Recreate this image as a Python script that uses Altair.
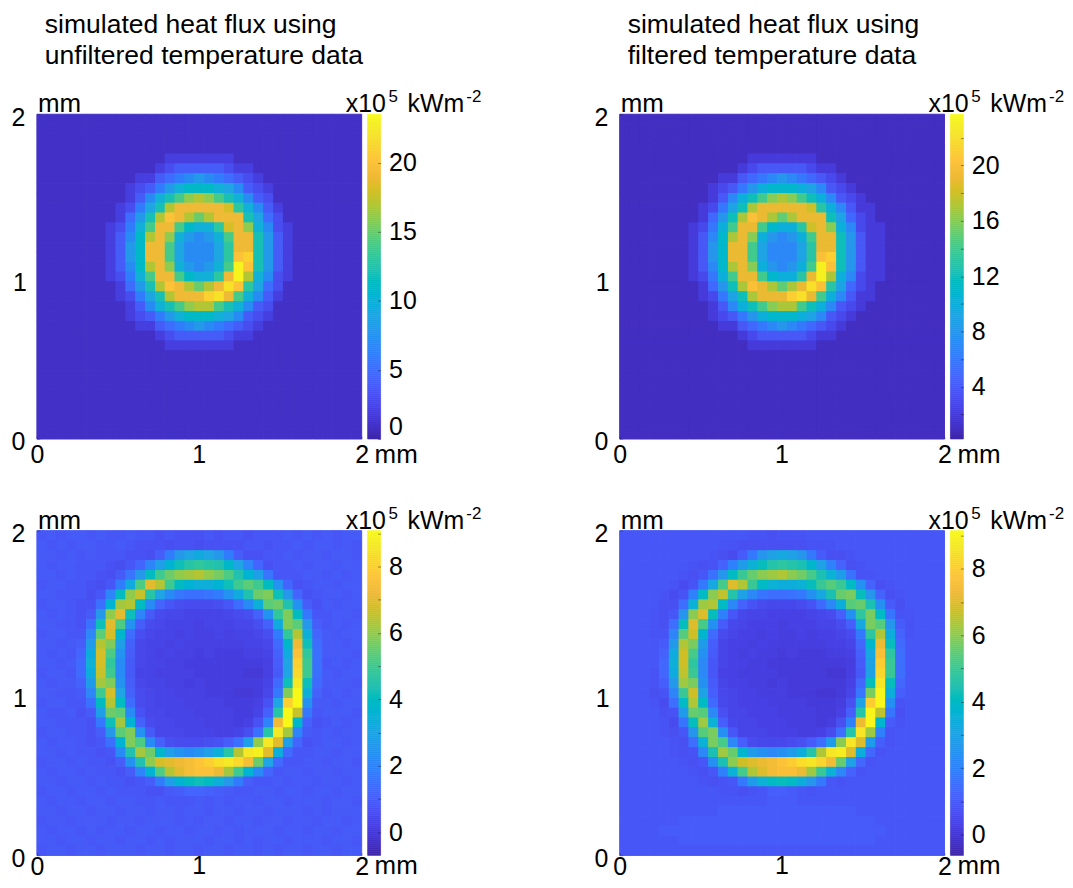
import altair as alt
import numpy as np
import pandas as pd

FONT = "Liberation Sans"
N = 33

# parula colour map samples
PARULA = [
    (0.2422, 0.1504, 0.6603), (0.2647, 0.1978, 0.7952), (0.2783, 0.2559, 0.8991),
    (0.2810, 0.3228, 0.9579), (0.2699, 0.3892, 0.9906), (0.2206, 0.4603, 0.9973),
    (0.1786, 0.5289, 0.9682), (0.1540, 0.5902, 0.9218), (0.1248, 0.6459, 0.8883),
    (0.0689, 0.6948, 0.8394), (0.0067, 0.7312, 0.7660), (0.1408, 0.7584, 0.6842),
    (0.2161, 0.7843, 0.5923), (0.3406, 0.8008, 0.4789), (0.5044, 0.7993, 0.3480),
    (0.6720, 0.7793, 0.2227), (0.8203, 0.7498, 0.1535), (0.9393, 0.7288, 0.2100),
    (0.9970, 0.7659, 0.2199), (0.9786, 0.8386, 0.1766), (0.9597, 0.9135, 0.1423),
    (0.9769, 0.9839, 0.0805),
]
PARULA_HEX = ["#%02x%02x%02x" % tuple(int(round(c * 255)) for c in rgb) for rgb in PARULA]

# heat flux, x10^5 kWm^-2, top row of the picture first
top_unfiltered = [
    [1,1,1,1,1,1,1,1,1,1,1,1,1,1,1,1,1,1,1,1,1,1,1,1,1,1,1,1,1,1,1,1,1],
    [1,1,1,1,1,1,1,1,1,1,1,1,1,1,1,1,1,1,1,1,1,1,1,1,1,1,1,1,1,1,1,1,1],
    [1,1,1,1,1,1,1,1,1,1,1,1,1,1,1,1,1,1,1,1,1,1,1,1,1,1,1,1,1,1,1,1,1],
    [1,1,1,1,1,1,1,1,1,1,1,1,1,1,1,1,1,1,1,1,1,1,1,1,1,1,1,1,1,1,1,1,1],
    [1,1,1,1,1,1,1,1,1,1,1,1,1,2,2,2,2,2,2,2,1,1,1,1,1,1,1,1,1,1,1,1,1],
    [1,1,1,1,1,1,1,1,1,1,1,1,2,3,4,4,4,4,4,3,2,2,1,1,1,1,1,1,1,1,1,1,1],
    [1,1,1,1,1,1,1,1,1,1,2,2,4,5,6,7,8,7,6,5,4,3,2,1,1,1,1,1,1,1,1,1,1],
    [1,1,1,1,1,1,1,1,1,2,3,4,6,8,10,11,11,11,10,9,7,4,3,2,1,1,1,1,1,1,1,1,1],
    [1,1,1,1,1,1,1,1,1,2,4,7,10,12,14,16,17,16,14,12,10,7,4,3,1,1,1,1,1,1,1,1,1],
    [1,1,1,1,1,1,1,1,2,3,6,9,12,17,19,19,19,19,19,18,13,10,7,4,2,1,1,1,1,1,1,1,1],
    [1,1,1,1,1,1,1,1,2,5,8,12,17,20,19,17,15,17,19,19,19,12,9,5,3,1,1,1,1,1,1,1,1],
    [1,1,1,1,1,1,1,2,3,6,10,14,19,19,14,11,10,10,13,18,19,16,10,7,3,2,1,1,1,1,1,1,1],
    [1,1,1,1,1,1,1,2,4,7,11,17,19,16,10,8,7,8,10,14,19,19,12,8,4,2,1,1,1,1,1,1,1],
    [1,1,1,1,1,1,1,2,4,8,11,19,19,14,9,7,7,7,9,13,19,19,12,8,4,2,1,1,1,1,1,1,1],
    [1,1,1,1,1,1,1,2,4,8,11,19,19,14,9,7,7,7,9,13,20,21,12,8,4,2,1,1,1,1,1,1,1],
    [1,1,1,1,1,1,1,2,4,7,11,17,19,16,10,8,7,8,10,14,23,20,12,8,4,2,1,1,1,1,1,1,1],
    [1,1,1,1,1,1,1,2,3,6,10,14,19,19,14,11,10,10,13,19,23,17,10,7,3,2,1,1,1,1,1,1,1],
    [1,1,1,1,1,1,1,1,2,5,8,12,17,20,19,17,15,17,19,22,20,13,9,5,3,1,1,1,1,1,1,1,1],
    [1,1,1,1,1,1,1,1,2,3,6,9,12,17,19,19,19,21,22,19,14,10,7,4,2,1,1,1,1,1,1,1,1],
    [1,1,1,1,1,1,1,1,1,2,4,7,10,12,14,16,17,17,14,12,10,7,4,3,1,1,1,1,1,1,1,1,1],
    [1,1,1,1,1,1,1,1,1,2,3,4,6,8,10,11,11,11,10,9,7,4,3,2,1,1,1,1,1,1,1,1,1],
    [1,1,1,1,1,1,1,1,1,1,2,2,4,5,6,7,8,7,6,5,4,3,2,1,1,1,1,1,1,1,1,1,1],
    [1,1,1,1,1,1,1,1,1,1,1,1,2,3,4,4,4,4,4,3,2,2,1,1,1,1,1,1,1,1,1,1,1],
    [1,1,1,1,1,1,1,1,1,1,1,1,1,2,2,2,2,2,2,2,1,1,1,1,1,1,1,1,1,1,1,1,1],
    [1,1,1,1,1,1,1,1,1,1,1,1,1,1,1,1,1,1,1,1,1,1,1,1,1,1,1,1,1,1,1,1,1],
    [1,1,1,1,1,1,1,1,1,1,1,1,1,1,1,1,1,1,1,1,1,1,1,1,1,1,1,1,1,1,1,1,1],
    [1,1,1,1,1,1,1,1,1,1,1,1,1,1,1,1,1,1,1,1,1,1,1,1,1,1,1,1,1,1,1,1,1],
    [1,1,1,1,1,1,1,1,1,1,1,1,1,1,1,1,1,1,1,1,1,1,1,1,1,1,1,1,1,1,1,1,1],
    [1,1,1,1,1,1,1,1,1,1,1,1,1,1,1,1,1,1,1,1,1,1,1,1,1,1,1,1,1,1,1,1,1],
    [1,1,1,1,1,1,1,1,1,1,1,1,1,1,1,1,1,1,1,1,1,1,1,1,1,1,1,1,1,1,1,1,1],
    [1,1,1,1,1,1,1,1,1,1,1,1,1,1,1,1,1,1,1,1,1,1,1,1,1,1,1,1,1,1,1,1,1],
    [1,1,1,1,1,1,1,1,1,1,1,1,1,1,1,1,1,1,1,1,1,1,1,1,1,1,1,1,1,1,1,1,1],
    [1,1,1,1,1,1,1,1,1,1,1,1,1,1,1,1,1,1,1,1,1,1,1,1,1,1,1,1,1,1,1,1,1],
]

top_filtered = [
    [1,1,1,1,1,1,1,1,1,1,1,1,1,1,1,1,1,1,1,1,1,1,1,1,1,1,1,1,1,1,1,1,1],
    [1,1,1,1,1,1,1,1,1,1,1,1,1,1,1,1,1,1,1,1,1,1,1,1,1,1,1,1,1,1,1,1,1],
    [1,1,1,1,1,1,1,1,1,1,1,1,1,1,1,1,1,1,1,1,1,1,1,1,1,1,1,1,1,1,1,1,1],
    [1,1,1,1,1,1,1,1,1,1,1,1,1,1,1,1,1,1,1,1,1,1,1,1,1,1,1,1,1,1,1,1,1],
    [1,1,1,1,1,1,1,1,1,1,1,1,1,2,2,2,2,2,2,2,1,1,1,1,1,1,1,1,1,1,1,1,1],
    [1,1,1,1,1,1,1,1,1,1,1,1,2,3,4,4,4,4,4,3,2,2,1,1,1,1,1,1,1,1,1,1,1],
    [1,1,1,1,1,1,1,1,1,1,2,2,4,5,6,7,8,7,6,5,4,3,2,1,1,1,1,1,1,1,1,1,1],
    [1,1,1,1,1,1,1,1,1,2,3,4,6,8,10,11,11,11,10,9,7,4,3,2,1,1,1,1,1,1,1,1,1],
    [1,1,1,1,1,1,1,1,1,2,4,7,10,12,14,16,17,16,14,12,10,7,4,3,2,1,1,1,1,1,1,1,1],
    [1,1,1,1,1,1,1,1,2,3,6,9,12,17,19,19,19,19,19,18,13,10,7,4,2,2,1,1,1,1,1,1,1],
    [1,1,1,1,1,1,1,1,2,5,8,12,17,20,19,17,15,17,19,19,19,12,9,5,3,2,1,1,1,1,1,1,1],
    [1,1,1,1,1,1,1,2,3,6,10,14,19,19,14,11,10,10,13,18,19,16,10,7,3,2,2,1,1,1,1,1,1],
    [1,1,1,1,1,1,1,2,4,7,11,17,19,16,10,8,7,8,10,14,19,19,12,8,4,2,2,1,1,1,1,1,1],
    [1,1,1,1,1,1,1,2,4,8,11,19,19,14,9,7,7,7,9,13,19,19,12,8,4,2,2,1,1,1,1,1,1],
    [1,1,1,1,1,1,1,2,4,8,11,19,19,14,9,7,7,7,9,13,20,21,12,8,4,2,2,1,1,1,1,1,1],
    [1,1,1,1,1,1,1,2,4,7,11,17,19,16,10,8,7,8,10,14,23,20,12,8,4,2,2,1,1,1,1,1,1],
    [1,1,1,1,1,1,1,2,3,6,10,14,19,19,14,11,10,10,13,19,23,17,10,7,3,2,2,1,1,1,1,1,1],
    [1,1,1,1,1,1,1,1,2,5,8,12,17,20,19,17,15,17,19,22,20,13,9,5,3,2,1,1,1,1,1,1,1],
    [1,1,1,1,1,1,1,1,2,3,6,9,12,17,19,19,19,21,22,19,14,10,7,4,2,2,1,1,1,1,1,1,1],
    [1,1,1,1,1,1,1,1,1,2,4,7,10,12,14,16,17,17,14,12,10,7,4,3,2,1,1,1,1,1,1,1,1],
    [1,1,1,1,1,1,1,1,1,2,3,4,6,8,10,11,11,11,10,9,7,4,3,2,1,1,1,1,1,1,1,1,1],
    [1,1,1,1,1,1,1,1,1,1,2,2,4,5,6,7,8,7,6,5,4,3,2,1,1,1,1,1,1,1,1,1,1],
    [1,1,1,1,1,1,1,1,1,1,1,1,2,3,4,4,4,4,4,3,2,2,1,1,1,1,1,1,1,1,1,1,1],
    [1,1,1,1,1,1,1,1,1,1,1,1,1,2,2,2,2,2,2,2,1,1,1,1,1,1,1,1,1,1,1,1,1],
    [1,1,1,1,1,1,1,1,1,1,1,1,1,1,1,1,1,1,1,1,1,1,1,1,1,1,1,1,1,1,1,1,1],
    [1,1,1,1,1,1,1,1,1,1,1,1,1,1,1,1,1,1,1,1,1,1,1,1,1,1,1,1,1,1,1,1,1],
    [1,1,1,1,1,1,1,1,1,1,1,1,1,1,1,1,1,1,1,1,1,1,1,1,1,1,1,1,1,1,1,1,1],
    [1,1,1,1,1,1,1,1,1,1,1,1,1,1,1,1,1,1,1,1,1,1,1,1,1,1,1,1,1,1,1,1,1],
    [1,1,1,1,1,1,1,1,1,1,1,1,1,1,1,1,1,1,1,1,1,1,1,1,1,1,1,1,1,1,1,1,1],
    [1,1,1,1,1,1,1,1,1,1,1,1,1,1,1,1,1,1,1,1,1,1,1,1,1,1,1,1,1,1,1,1,1],
    [1,1,1,1,1,1,1,1,1,1,1,1,1,1,1,1,1,1,1,1,1,1,1,1,1,1,1,1,1,1,1,1,1],
    [1,1,1,1,1,1,1,1,1,1,1,1,1,1,1,1,1,1,1,1,1,1,1,1,1,1,1,1,1,1,1,1,1],
    [1,1,1,1,1,1,1,1,1,1,1,1,1,1,1,1,1,1,1,1,1,1,1,1,1,1,1,1,1,1,1,1,1],
]

# bottom panels, in tenths of x10^5 kWm^-2
bottom_unfiltered = [
    [8,9,8,9,9,8,9,8,8,9,8,8,7,8,7,7,7,8,7,8,8,7,8,8,8,9,8,9,8,9,8,9,9],
    [9,8,9,8,9,9,8,8,9,8,7,7,7,6,7,7,6,7,7,7,7,8,8,7,8,8,9,8,9,9,8,9,8],
    [9,9,8,9,8,9,8,8,8,7,7,6,10,18,26,30,32,30,26,18,10,7,7,8,8,9,8,9,9,8,9,9,8],
    [9,8,9,9,8,8,8,7,6,8,12,20,28,36,42,46,48,46,44,38,30,20,12,7,8,8,9,8,9,9,8,9,9],
    [9,9,8,9,8,8,7,6,9,16,26,40,50,56,60,62,64,60,57,52,44,36,28,16,8,8,8,9,9,8,9,8,9],
    [8,9,9,8,8,7,6,8,18,32,52,70,64,50,40,36,34,34,36,42,50,54,50,40,24,12,7,8,9,9,8,9,9],
    [9,9,8,8,8,6,8,20,40,60,66,46,30,22,17,15,15,16,18,24,32,44,56,58,42,26,12,7,8,9,9,8,9],
    [8,9,9,8,7,7,15,36,62,64,40,22,12,8,6,5,5,5,6,8,14,22,34,54,56,44,24,10,7,9,8,9,9],
    [9,8,9,8,7,9,26,60,70,42,20,9,5,4,4,3,3,3,3,4,5,6,11,24,48,58,40,17,8,8,9,9,8],
    [9,9,8,8,7,15,42,70,52,24,10,5,4,3,3,3,2,3,3,3,4,4,6,11,32,58,54,26,10,8,9,8,9],
    [8,9,9,8,8,21,54,68,38,14,6,4,3,3,2,3,2,2,3,2,3,3,4,6,18,48,64,34,12,9,8,9,9],
    [9,9,8,9,10,27,64,58,28,11,4,3,3,2,3,2,2,2,2,2,2,3,3,4,13,38,72,42,14,9,9,8,9],
    [9,8,9,8,12,33,68,52,24,10,4,3,2,3,2,2,1,2,1,1,1,2,2,3,11,32,76,48,15,9,9,9,8],
    [9,9,8,9,13,35,68,48,22,9,4,3,3,2,2,1,1,1,1,1,1,1,1,2,10,30,80,50,15,8,9,8,9],
    [8,9,9,8,13,33,66,50,22,9,3,3,2,2,2,2,1,1,1,1,1,0,0,2,9,30,82,50,15,9,8,9,9],
    [9,8,9,9,11,27,62,58,24,10,4,3,3,2,2,1,2,1,1,1,1,1,1,3,13,42,86,42,13,9,9,9,8],
    [9,9,8,8,9,21,50,68,30,11,5,4,3,3,2,2,2,1,1,1,0,0,1,4,17,58,90,34,11,8,9,8,9],
    [8,9,9,8,8,15,40,64,40,14,5,4,3,3,3,2,2,2,2,1,1,1,2,7,30,80,90,24,9,9,8,9,9],
    [9,8,8,9,7,9,28,56,54,22,7,4,4,3,3,3,2,2,2,2,1,1,3,11,46,90,66,17,8,9,9,9,8],
    [9,9,8,8,8,7,17,42,62,36,11,5,4,4,3,3,3,2,2,2,1,2,7,20,72,90,38,11,7,8,9,8,9],
    [8,9,9,8,8,7,10,26,54,58,24,9,4,4,4,3,3,3,2,2,3,6,15,46,86,62,20,9,8,9,8,9,9],
    [9,8,9,9,8,7,8,15,36,58,52,22,11,6,5,5,5,6,7,10,15,28,60,86,70,28,12,7,8,9,9,8,9],
    [9,9,8,9,8,8,7,8,22,44,62,56,38,28,24,22,24,28,34,46,64,86,88,70,34,13,8,8,9,9,8,9,9],
    [8,9,9,8,9,8,8,7,10,24,44,60,68,70,72,74,77,80,84,86,82,74,56,30,13,8,8,9,9,8,9,9,8],
    [9,8,9,9,8,9,8,8,7,10,20,36,52,64,70,74,76,76,72,62,50,36,22,12,8,9,9,8,9,9,8,9,9],
    [9,9,8,9,9,8,9,8,8,7,8,10,18,28,36,40,42,40,34,26,18,10,8,8,9,8,9,9,8,9,9,8,9],
    [8,9,9,8,9,9,8,9,8,8,8,7,7,9,10,12,12,11,10,9,8,8,9,9,8,9,9,8,9,9,8,9,9],
    [9,8,9,9,8,9,9,8,9,9,8,8,9,8,8,8,9,8,9,8,9,9,8,9,9,8,9,9,9,8,9,9,8],
    [9,9,8,9,9,8,9,9,8,9,9,8,9,9,8,9,9,8,9,9,8,9,9,8,9,9,9,8,9,8,9,9,9],
    [8,9,9,8,9,9,9,8,9,9,8,9,9,9,8,9,8,9,9,8,9,9,8,9,9,8,9,9,8,9,9,8,9],
    [9,8,9,9,8,9,8,9,9,8,9,9,8,9,9,8,9,9,8,9,8,9,9,9,8,9,9,8,9,9,8,9,9],
    [9,9,8,9,9,8,9,9,8,9,9,8,9,8,9,9,9,8,9,9,8,9,8,9,9,8,9,9,9,8,9,9,8],
    [8,9,9,8,9,9,8,9,9,9,8,9,9,8,9,9,8,9,9,8,9,9,8,9,8,9,9,8,9,9,8,9,9],
]

bottom_filtered = [
    [9,9,9,9,9,9,9,9,9,9,9,9,9,8,8,7,8,8,8,9,9,9,9,9,9,9,9,9,9,9,9,9,9],
    [9,9,9,9,9,9,9,9,9,9,8,8,7,7,7,7,7,7,7,8,8,8,9,9,9,9,9,9,9,9,9,9,9],
    [9,9,9,9,9,9,9,9,9,8,7,6,10,18,26,30,32,30,26,18,10,7,7,8,9,9,9,9,9,9,9,9,9],
    [9,9,9,9,9,9,9,8,7,8,12,20,28,36,42,46,48,46,44,38,30,20,12,7,8,9,9,9,9,9,9,9,9],
    [9,9,9,9,9,9,8,7,9,16,26,40,50,56,60,62,64,60,57,52,44,36,28,16,8,8,9,9,9,9,9,9,9],
    [9,9,9,9,9,8,6,8,18,32,52,70,64,50,40,36,34,34,36,42,50,54,50,40,24,12,7,8,9,9,9,9,9],
    [9,9,9,9,8,6,8,20,40,60,66,46,30,22,17,15,15,16,18,24,32,44,56,58,42,26,12,7,8,9,9,9,9],
    [9,9,9,9,7,7,15,36,62,64,40,22,12,8,6,5,5,5,6,8,14,22,34,54,56,44,24,10,7,9,9,9,9],
    [9,9,9,8,7,9,26,60,70,42,20,9,5,4,4,3,3,3,3,4,5,6,11,24,48,58,40,17,8,8,9,9,9],
    [9,9,9,8,7,15,42,70,52,24,10,5,4,3,3,3,2,3,3,3,4,4,6,11,32,58,54,26,10,8,9,9,9],
    [9,9,9,8,8,21,54,68,38,14,6,4,3,3,2,3,2,2,3,2,3,3,4,6,18,48,64,34,12,8,9,9,9],
    [9,9,9,9,10,27,64,58,28,11,4,3,3,2,3,2,2,2,2,2,2,3,3,4,13,38,72,42,14,9,9,9,9],
    [9,9,9,9,12,33,68,52,24,10,4,3,2,3,2,2,1,2,1,1,1,2,2,3,11,32,76,48,15,9,9,9,9],
    [9,9,9,9,13,35,68,48,22,9,4,3,3,2,2,1,1,1,1,1,1,1,1,2,10,30,80,50,15,9,9,9,9],
    [9,9,9,8,13,33,66,50,22,9,3,3,2,2,2,2,1,1,1,1,1,0,0,2,9,30,82,50,15,9,9,9,9],
    [9,9,9,8,11,27,62,58,24,10,4,3,3,2,2,1,2,1,1,1,1,1,1,3,13,42,86,42,13,9,9,9,9],
    [9,9,9,7,8,21,50,68,30,11,5,4,3,3,2,2,2,1,1,1,0,0,1,4,17,58,90,34,11,9,9,9,9],
    [9,9,9,8,6,15,40,64,40,14,5,4,3,3,3,2,2,2,2,1,1,1,2,7,30,80,90,24,8,9,9,9,9],
    [9,9,9,9,7,8,28,56,54,22,7,4,4,3,3,3,2,2,2,2,1,1,3,11,46,90,66,17,7,9,9,9,9],
    [9,9,9,9,8,6,17,42,62,36,11,5,4,4,3,3,3,2,2,2,1,2,7,20,72,90,38,10,8,9,9,9,9],
    [9,9,9,9,8,7,9,26,54,58,24,9,4,4,4,3,3,3,2,2,3,6,15,46,86,62,20,8,9,9,9,9,9],
    [9,9,9,9,9,8,7,15,36,58,52,22,11,6,5,5,5,6,7,10,15,28,60,86,70,28,11,8,9,9,9,9,9],
    [9,9,9,9,9,8,7,8,22,44,62,56,38,28,24,22,24,28,34,46,64,86,88,70,34,13,8,9,9,9,9,9,9],
    [9,9,9,9,9,9,8,7,9,24,44,60,68,70,72,74,77,80,84,86,82,74,56,30,13,8,9,9,9,9,9,9,9],
    [9,9,9,9,9,9,9,8,7,9,20,36,52,64,70,74,76,76,72,62,50,36,22,12,8,9,9,9,9,9,9,9,9],
    [9,9,9,9,9,9,9,9,8,7,8,9,18,28,36,40,42,40,34,26,18,9,8,9,9,9,9,9,9,9,9,9,9],
    [9,9,9,9,9,9,9,9,9,9,8,8,7,8,9,11,11,10,9,8,9,9,9,9,9,9,9,9,9,9,9,9,9],
    [9,9,9,9,9,9,9,9,9,9,9,9,9,9,9,10,10,10,9,9,9,9,9,9,9,9,9,9,9,9,9,9,9],
    [9,9,9,9,9,9,9,9,9,9,10,10,10,10,10,10,10,10,10,10,10,10,10,10,9,9,9,9,9,9,9,9,9],
    [9,9,9,9,9,9,10,10,10,10,10,10,10,10,10,10,10,10,10,10,10,10,10,10,10,10,9,9,9,9,9,9,9],
    [9,9,9,9,10,10,10,10,10,10,10,10,10,10,10,10,10,10,10,10,10,10,10,10,10,10,10,9,9,9,9,9,9],
    [9,9,9,9,9,9,10,10,10,10,10,10,10,10,10,10,10,10,10,10,10,10,10,10,10,10,9,9,9,9,9,9,9],
    [9,9,9,9,9,9,9,9,9,9,9,9,9,9,9,9,9,9,9,9,9,9,9,9,9,9,9,9,9,9,9,9,9],
]

title_left = ["simulated heat flux using", "unfiltered temperature data"]
title_right = ["simulated heat flux using", "filtered temperature data"]
axis_ticks = [0, 0.25, 0.5, 0.75, 1, 1.25, 1.5, 1.75, 2]
cbar_top_left = [0, 5, 10, 15, 20]
cbar_top_right = [2, 4, 6, 8, 10, 12, 14, 16, 18, 20, 22]
cbar_bottom = [0, 1, 2, 3, 4, 5, 6, 7, 8, 9]


def frame(grid, scale=1.0):
    rows = []
    for t, row in enumerate(grid):
        for c, v in enumerate(row):
            rows.append({
                "x0": c / N * 2, "x1": (c + 1) / N * 2,
                "y0": 2 - (t + 1) / N * 2, "y1": 2 - t / N * 2,
                "v": v * scale,
            })
    return pd.DataFrame(rows)


def label(text, x, y, size=25):
    return (
        alt.Chart(pd.DataFrame({"t": [text]}))
        .mark_text(align="left", baseline="alphabetic", font=FONT, fontSize=size, color="black")
        .encode(x=alt.value(x), y=alt.value(y), text="t:N")
    )


def image_axis(**kw):
    return alt.Axis(values=axis_ticks, format="d", domain=False, grid=False, ticks=True, tickSize=3,
                    tickColor="black", tickOpacity=0.25, offset=-3, zindex=1,
                    labelExpr="datum.value == 0 || datum.value == 2 ? datum.label : ''",
                    labelFontSize=25, labelFont=FONT, labelColor="black",
                    labelFlush=False, labelOverlap=False, **kw)


def panel(grid, lo, hi, ticks, every, title=None, scale=1.0, xlab=24):
    stops = list(np.linspace(lo, hi, len(PARULA_HEX)))
    cscale = alt.Scale(domain=stops, range=PARULA_HEX, clamp=True)
    df = frame(grid, scale)
    xs = alt.Scale(domain=[0, 2], nice=False)
    ys = alt.Scale(domain=[0, 2], nice=False)
    # cell outlines under the cells hide the seams between them
    under = (
        alt.Chart(df)
        .mark_rect(strokeWidth=1, fillOpacity=0)
        .encode(
            x=alt.X("x0:Q", title=None, scale=xs,
                    axis=image_axis(labelPadding=xlab, labelBaseline="alphabetic")),
            x2="x1:Q",
            y=alt.Y("y0:Q", title=None, scale=ys, axis=image_axis(labelPadding=12, labelOffset=3)),
            y2="y1:Q",
            stroke=alt.Stroke("v:Q", scale=cscale, legend=None),
        )
    )
    heat = (
        alt.Chart(df)
        .mark_rect()
        .encode(
            x=alt.X("x0:Q", scale=xs),
            x2="x1:Q",
            y=alt.Y("y0:Q", scale=ys),
            y2="y1:Q",
            color=alt.Color("v:Q", scale=cscale, legend=None),
        )
    )
    texts = [
        label("mm", 1, -2, 26),
        label("x10", 310, -2, 25),
        label("5", 353, -12, 17),
        label("kWm", 372, -2, 25),
        label("-2", 431, -12, 17),
        label("mm", 339, 326 + xlab, 26),
        label("1", 156, 326 + xlab, 25),
        label("1", -24, 177, 25),
    ]
    if title:
        texts.append(label(title[0], 8, -82, 26.6))
        texts.append(label(title[1], 8, -50, 26.6))
    image = alt.layer(under, heat, *texts)

    # colour bar: 2-pixel bands on its own value axis
    edges = np.linspace(lo, hi, 164)
    bar_df = pd.DataFrame({"b0": edges[:-1], "b1": edges[1:], "v": (edges[:-1] + edges[1:]) / 2})
    bar = (
        alt.Chart(bar_df)
        .mark_rect(strokeWidth=0.6)
        .encode(
            x=alt.value(332),
            x2=alt.value(345),
            y=alt.Y("b0:Q", title=None, scale=alt.Scale(domain=[lo, hi], nice=False, zero=False),
                    axis=alt.Axis(orient="right", offset=16, values=ticks, format="d", domain=False, grid=False,
                                  ticks=True, tickSize=3, tickColor="black", tickOpacity=0.4, zindex=1,
                                  labelExpr="datum.value % " + str(every) + " == 0 ? datum.label : ''",
                                  labelFontSize=25, labelFont=FONT, labelColor="black", labelPadding=8,
                                  labelFlush=True, labelFlushOffset=0, labelOverlap=False)),
            y2="b1:Q",
            color=alt.Color("v:Q", scale=cscale, legend=None),
            stroke=alt.Stroke("v:Q", scale=cscale, legend=None),
        )
    )
    return (
        alt.layer(image, bar)
        .resolve_scale(y="independent")
        .properties(width=326, height=326)
    )


p1 = panel(top_unfiltered, 0, 23.5, cbar_top_left, 5, title_left)
p2 = panel(top_filtered, 0.23, 23.7, cbar_top_right, 4, title_right)
p3 = panel(bottom_unfiltered, -0.7, 9.08, cbar_bottom, 2, None, 0.1, xlab=19)
p4 = panel(bottom_filtered, -0.63, 9.15, cbar_bottom, 2, None, 0.1, xlab=19)

chart = (
    alt.concat(p1, p2, p3, p4, columns=2, spacing=alt.RowColnumber(row=92, column=259), bounds="flush")
    .resolve_scale(color="independent", stroke="independent")
    .configure_view(strokeWidth=0)
    .properties(padding={"left": 3, "top": 2, "right": 0, "bottom": -5}, background="white")
)

chart.save("out.html", embed_options={"renderer": "svg", "actions": False})
